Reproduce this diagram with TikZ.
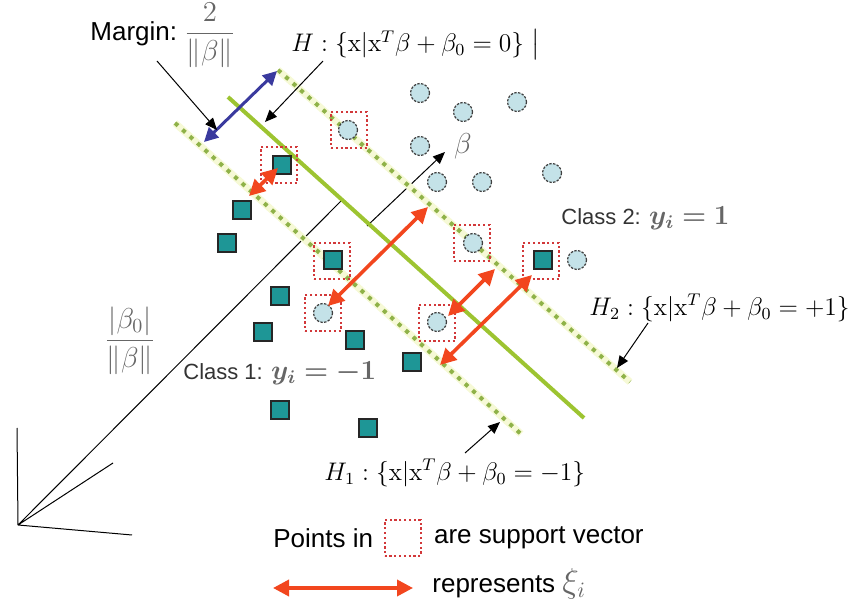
\documentclass[tikz,border=0pt]{standalone}
\usepackage{amsmath}
\usepackage{bm}
\usepackage{graphicx}
\usepackage{fontspec}
\setsansfont{Liberation Sans}
\usepackage{xcolor}
\usepackage{tikz}
\usetikzlibrary{arrows.meta,positioning}
\definecolor{sqteal}{HTML}{1E9696}
\definecolor{dotblue}{HTML}{C4E2E8}
\definecolor{planegreen}{HTML}{9DC431}
\definecolor{dotgreen}{HTML}{8FB248}
\definecolor{halo}{HTML}{F6F9D6}
\definecolor{svred}{HTML}{D2383A}
\definecolor{xired}{HTML}{F2461E}
\definecolor{marginblue}{HTML}{3A3A9E}
\definecolor{labelgray}{HTML}{666666}
\tikzset{
  class one/.style={rectangle,fill=sqteal,draw=black!85,line width=0.6pt,
    minimum size=9pt,inner sep=0pt},
  class two/.style={circle,fill=dotblue,draw=black!75,line width=0.6pt,
    dash pattern=on 1.2pt off 0.7pt,minimum width=9.5pt,minimum height=8.6pt,inner sep=0pt},
  support box/.style={rectangle,draw=svred,line width=1.1pt,
    dash pattern=on 1.1pt off 1.3pt,minimum size=18pt,inner sep=0pt},
  hyperplane/.style={draw=planegreen,line width=2pt},
  margin plane/.style={draw=dotgreen,line width=2pt,dash pattern=on 2pt off 3pt,
    preaction={draw=halo,line width=3.6pt,solid}},
  xi arrow/.style={draw=xired,line width=1.8pt,
    {Triangle[length=8pt,width=8pt]}-{Triangle[length=8pt,width=8pt]}},
  margin arrow/.style={draw=marginblue,line width=1.5pt,
    {Triangle[length=7pt,width=7pt]}-{Triangle[length=7pt,width=7pt]}},
  pointer/.style={draw=black,line width=0.5pt,-{Triangle[length=6pt,width=5pt]}},
  axis/.style={draw=black,line width=0.5pt},
  class label/.style={font=\sffamily\fontsize{11}{13}\selectfont,text=black!80,anchor=west,inner sep=0pt},
  plane label/.style={font=\fontsize{12}{14}\selectfont,scale=1.06,anchor=west,inner sep=0pt},
  legend text/.style={font=\sffamily\fontsize{13}{15}\selectfont,inner sep=0pt}
}

\begin{document}
\begin{tikzpicture}[x=0.5pt,y=-0.5pt]
  \useasboundingbox (0,0) rectangle (861,603);

  % axes and normal direction
  \coordinate (o) at (18,525);
  \coordinate (ax1) at (17,428);
  \coordinate (ax2) at (113,463);
  \coordinate (ax3) at (132,535);
  \coordinate (nfoot) at (342,200);
  \coordinate (btail) at (367,226);
  \coordinate (btip) at (445,152);
  \draw[axis] (o)--(ax1) (o)--(ax2) (o)--(ax3) (o)--(nfoot);
  \draw[pointer] (btail)--(btip);
  \node[font=\fontsize{15}{17}\selectfont,text=labelgray] (beta) at (463,146) {$\beta$};
  \node[font=\fontsize{14.5}{17}\selectfont,text=labelgray] (dist) at (130,341)
    {$\dfrac{|\beta_0|}{\|\beta\|}$};

  % hyperplanes
  \coordinate (h2a) at (278,70);
  \coordinate (h2b) at (630,382);
  \coordinate (h1a) at (175,123);
  \coordinate (h1b) at (521,434);
  \coordinate (h0a) at (228,97);
  \coordinate (h0b) at (584,418);
  \draw[margin plane] (h2a)--(h2b);
  \draw[margin plane] (h1a)--(h1b);
  \draw[hyperplane] (h0a)--(h0b);

  % support vectors
  \foreach \x/\y [count=\i] in {349/130,279/165,332/261,472/243,323/313,437/323,541/261}
    \node[support box] (sv\i) at (\x,\y) {};

  % class 1 and class 2 points
  \foreach \x/\y [count=\i] in {242/210,227/243,280/296,263/332,355/340,412/362,
      280/410,368/428,282/165,333/260,543/260}
    \node[class one] (sq\i) at (\x,\y) {};
  \foreach \x/\y [count=\i] in {420/93,463/112,517/102,420/146,437/182,482/182,
      552/173,577/260,348/130,473/243,323/313,437/322}
    \node[class two] (ci\i) at (\x,\y) {};

  % slack arrows
  \foreach \ax/\ay/\bx/\by [count=\i] in {328/306/428/207,448/316/495/269,
      440/365/532/275,249/196/278/168} {
    \coordinate (xa\i) at (\ax,\ay);
    \coordinate (xb\i) at (\bx,\by);
    \draw[xi arrow] (xa\i)--(xb\i);
  }

  % margin
  \coordinate (mga) at (204,142);
  \coordinate (mgb) at (277,71);
  \draw[margin arrow] (mga)--(mgb);
  \node[anchor=west,inner sep=0pt] (mlabel) at (90,35)
    {\sffamily\fontsize{13}{15}\selectfont Margin:\ {\color{labelgray}\fontsize{14}{17}\selectfont$\dfrac{2}{\|\beta\|}$}};
  \coordinate (mpa) at (157,61);
  \coordinate (mpb) at (217,130);
  \draw[pointer] (mpa)--(mpb);

  % plane labels
  \node[plane label] (hlabel) at (291,45)
    {$H:\{\mathrm{x}|\mathrm{x}^T\beta+\beta_0=0\}\;\big|$};
  \coordinate (hpa) at (323,61);
  \coordinate (hpb) at (265,122);
  \draw[pointer] (hpa)--(hpb);

  \node[plane label] (h2label) at (589,308)
    {$H_2:\{\mathrm{x}|\mathrm{x}^T\beta+\beta_0=+1\}$};
  \coordinate (h2pa) at (648,323);
  \coordinate (h2pb) at (617,368);
  \draw[pointer] (h2pa)--(h2pb);

  \node[plane label] (h1label) at (324,473)
    {$H_1:\{\mathrm{x}|\mathrm{x}^T\beta+\beta_0=-1\}$};
  \coordinate (h1pa) at (465,453);
  \coordinate (h1pb) at (500,422);
  \draw[pointer] (h1pa)--(h1pb);

  % class labels
  \node[class label] (cl2) at (561,218)
    {Class 2: {\color{labelgray}\fontsize{12}{14}\selectfont\scalebox{1.15}{$\bm{y_i=1}$}}};
  \node[class label] (cl1) at (183,373)
    {Class 1: {\color{labelgray}\fontsize{12}{14}\selectfont\scalebox{1.15}{$\bm{y_i=-1}$}}};

  % legend
  \node[legend text,anchor=west] (ptsin) at (273,538) {Points in};
  \node[support box,right=5pt of ptsin] (legbox) {};
  \node[legend text,right=6pt of legbox] (svtext) {are support vector};
  \node[legend text,anchor=west] (repr) at (432,584)
    {represents {\color{labelgray}\fontsize{16}{18}\selectfont$\xi_i$}};
  \coordinate (lga) at (273,588);
  \coordinate (lgb) at (413,588);
  \draw[xi arrow] (lga)--(lgb);
\end{tikzpicture}
\end{document}
